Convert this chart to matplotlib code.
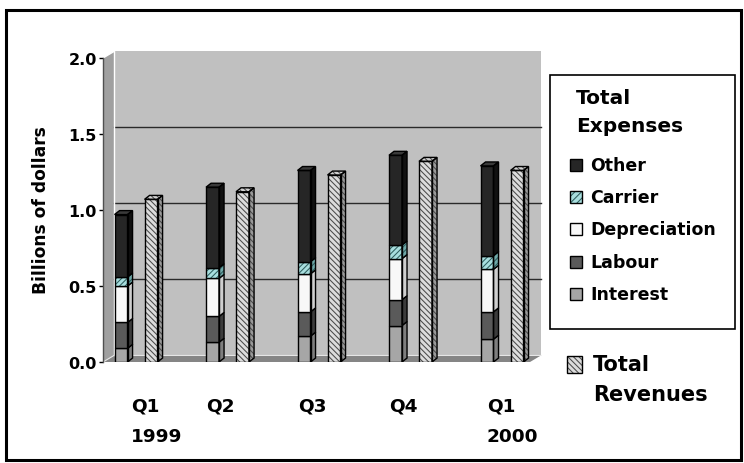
import matplotlib
matplotlib.use("Agg")
import matplotlib.pyplot as plt
from matplotlib.patches import Polygon, Rectangle
import numpy as np

# quarterly figures, billions of dollars
quarters = ['Q1', 'Q2', 'Q3', 'Q4', 'Q1']
years = ['1999', '', '', '', '2000']
interest = [0.09, 0.13, 0.17, 0.24, 0.15]
labour = [0.17, 0.17, 0.16, 0.17, 0.18]
depreciation = [0.24, 0.25, 0.25, 0.27, 0.28]
carrier = [0.06, 0.07, 0.08, 0.09, 0.09]
other = [0.41, 0.53, 0.60, 0.59, 0.59]
revenues = [1.07, 1.12, 1.23, 1.32, 1.26]

expense_names = ['Interest', 'Labour', 'Depreciation', 'Carrier', 'Other']
expense_values = [interest, labour, depreciation, carrier, other]
yticks = [0.0, 0.5, 1.0, 1.5, 2.0]

# face, side, top, hatch, hatch colour
styles = {
    'Interest': ('#a6a6a6', '#7e7e7e', '#bdbdbd', None, None),
    'Labour': ('#5a5a5a', '#3c3c3c', '#6e6e6e', None, None),
    'Depreciation': ('#f8f8f8', '#cfcfcf', '#ffffff', None, None),
    'Carrier': ('#a8dede', '#6fa8a8', '#bfeaea', '//////', '#2f5f5f'),
    'Other': ('#262626', '#111111', '#3a3a3a', None, None),
    'Revenue': ('#dcdcdc', '#9a9a9a', '#d0d0d0', '\\\\\\\\\\\\', '#4a4a4a'),
}

W, H = 744, 464
plt.rcParams['hatch.linewidth'] = 0.75
fig = plt.figure(figsize=(W / 100, H / 100), dpi=100)
FONT = 'DejaVu Sans'


def fx(px):
    return px / W


def fy(py):
    return 1 - py / H


ax = fig.add_axes([fx(103), fy(363), (530 - 103) / W, (363 - 59) / H])
xl, xr = -0.361, 4.306
ax.set_xlim(xl, xr)
ax.set_ylim(0, 2)

# 3d offsets in data units
wdx, wdy = 0.12, 0.043   # back wall
bdx, bdy = 0.055, 0.026  # bar depth
bw = 0.142
off = 0.164

# walls and floor
ax.add_patch(Polygon([(xl + wdx, wdy), (xr + wdx, wdy), (xr + wdx, 2 + wdy), (xl + wdx, 2 + wdy)],
                     closed=True, facecolor='#c0c0c0', edgecolor='none', zorder=0.5, clip_on=False))
ax.add_patch(Polygon([(xl, 0), (xl, 2), (xl + wdx, 2 + wdy), (xl + wdx, wdy)],
                     closed=True, facecolor='#a0a0a0', edgecolor='none', zorder=0.5, clip_on=False))
ax.plot([xl + wdx, xl + wdx], [wdy, 2 + wdy], color='white', lw=1.0, zorder=0.7, clip_on=False)
ax.plot([xl, xl + wdx], [2, 2 + wdy], color='white', lw=1.0, zorder=0.7, clip_on=False)
ax.add_patch(Polygon([(xl, 0), (xr, 0), (xr + wdx, wdy), (xl + wdx, wdy)],
                     closed=True, facecolor='#858585', edgecolor='none', zorder=0.6, clip_on=False))
ax.plot([xl, xl + wdx, xr + wdx], [0, wdy, wdy], color='#e6e6e6', lw=0.8, zorder=0.7, clip_on=False)
for g in yticks[1:-1]:
    ax.plot([xl + wdx, xr + wdx], [g + wdy, g + wdy], color='#2a2a2a', lw=1.0, zorder=0.65, clip_on=False)


def prism(x, bottom, height, key, with_top, z):
    face, side, top, hatch, hcol = styles[key]
    x0 = x - bw / 2
    x1 = x + bw / 2
    t = bottom + height
    front = [(x0, bottom), (x1, bottom), (x1, t), (x0, t)]
    sidep = [(x1, bottom), (x1 + bdx, bottom + bdy), (x1 + bdx, t + bdy), (x1, t)]
    shapes = [(front, face), (sidep, side)]
    if with_top:
        shapes.append(([(x0, t), (x0 + bdx, t + bdy), (x1 + bdx, t + bdy), (x1, t)], top))
    for pts, col in shapes:
        if hatch:
            ax.add_patch(Polygon(pts, closed=True, facecolor=col, edgecolor=hcol, hatch=hatch,
                                 lw=0, zorder=z))
        else:
            ax.add_patch(Polygon(pts, closed=True, facecolor=col, edgecolor='none', zorder=z))
        ax.add_patch(Polygon(pts, closed=True, fill=False, edgecolor='black', lw=1.0, zorder=z + 0.1))


pos = np.arange(len(quarters))
for i in pos:
    base = 0.0
    for k, name in enumerate(expense_names):
        v = expense_values[k][i]
        prism(i - off, base, v, name, k == len(expense_names) - 1, 2 + k * 0.2)
        base += v
    prism(i + off, 0.0, revenues[i], 'Revenue', True, 2)

# axes
for s in ['top', 'right', 'bottom']:
    ax.spines[s].set_visible(False)
ax.spines['left'].set_color('#505050')
ax.spines['left'].set_linewidth(1.0)
ax.set_xticks([])
ax.set_yticks(yticks)
ax.set_yticklabels(['%.1f' % t for t in yticks])
ax.tick_params(axis='y', length=3, width=1, pad=1.5, color='black')
for lab in ax.get_yticklabels():
    lab.set_fontfamily(FONT)
    lab.set_fontweight('bold')
    lab.set_fontsize(11.5)
ax.patch.set_visible(False)

fig.text(fx(41), fy(210), 'Billions of dollars', rotation=90, ha='center', va='center',
         fontsize=12.3, fontweight='bold', family=FONT)

# category labels
qlabel_left = [131, 206, 298, 389, 487]
for q, yr, lx in zip(quarters, years, qlabel_left):
    fig.text(fx(lx), fy(407), q, ha='left', va='center', fontsize=13.3,
             fontweight='bold', family=FONT)
    if yr:
        fig.text(fx(lx), fy(437), yr, ha='left', va='center', fontsize=13.3,
                 fontweight='bold', family=FONT)

# expenses legend
fig.patches.append(Rectangle((fx(550), fy(330)), 185 / W, 254 / H, transform=fig.transFigure,
                             facecolor='white', edgecolor='black', lw=1.2))
fig.text(fx(576), fy(98), 'Total', ha='left', va='center', fontsize=14.5,
         fontweight='bold', family=FONT)
fig.text(fx(576), fy(127), 'Expenses', ha='left', va='center', fontsize=14.5,
         fontweight='bold', family=FONT)
rows = [166, 198, 230, 263, 295]
for name, ry in zip(expense_names[::-1], rows):
    face, side, top, hatch, hcol = styles[name]
    if hatch:
        fig.patches.append(Rectangle((fx(570), fy(ry + 6)), 12 / W, 12 / H, transform=fig.transFigure,
                                     facecolor=face, edgecolor=hcol, hatch=hatch[:5], lw=0))
    fig.patches.append(Rectangle((fx(570), fy(ry + 6)), 12 / W, 12 / H, transform=fig.transFigure,
                                 facecolor='none' if hatch else face, edgecolor='black', lw=1.0))
    fig.text(fx(590), fy(ry), name, ha='left', va='center', fontsize=12.5,
             fontweight='bold', family=FONT)

# revenue legend
face, side, top, hatch, hcol = styles['Revenue']
fig.patches.append(Rectangle((fx(567), fy(374)), 15 / W, 17 / H, transform=fig.transFigure,
                             facecolor=face, edgecolor=hcol, hatch=hatch, lw=0))
fig.patches.append(Rectangle((fx(567), fy(374)), 15 / W, 17 / H, transform=fig.transFigure,
                             fill=False, edgecolor='black', lw=1.0))
fig.text(fx(593), fy(365), 'Total', ha='left', va='center', fontsize=15,
         fontweight='bold', family=FONT)
fig.text(fx(593), fy(395), 'Revenues', ha='left', va='center', fontsize=15,
         fontweight='bold', family=FONT)

# outer frame
fig.patches.append(Rectangle((fx(5.5), fy(461)), (741 - 5.5) / W, (461 - 11) / H,
                             transform=fig.transFigure, fill=False, edgecolor='black', lw=2.2))

fig.savefig('out.png', dpi=100)
